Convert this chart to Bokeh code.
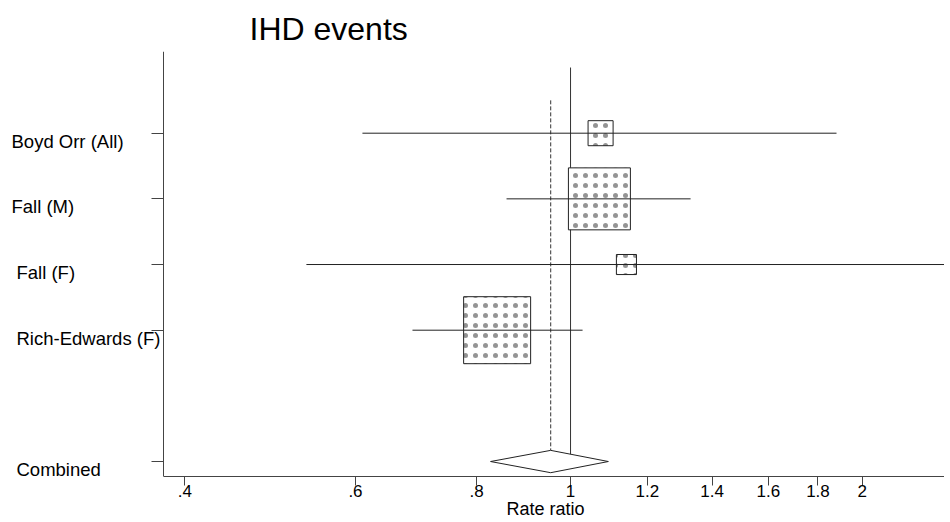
from bokeh.plotting import figure
from bokeh.models import Range1d, FixedTicker, Label, ColumnDataSource, Title
from bokeh.embed import file_html
from bokeh.resources import INLINE
import numpy as np

# ---- data ----
studies = ["Boyd Orr (All)", "Fall (M)", "Fall (F)", "Rich-Edwards (F)"]
rate_ratio = [1.074, 1.071, 1.142, 0.840]
ci_low = [0.610, 0.859, 0.534, 0.687]
ci_high = [1.881, 1.330, 2.600, 1.029]
weights = [6.7, 41.1, 4.3, 48.0]
combined_label = "Combined"
combined_rr = 0.954
combined_low = 0.827
combined_high = 1.094
tick_values = [0.4, 0.6, 0.8, 1.0, 1.2, 1.4, 1.6, 1.8, 2.0]
tick_labels = [".4", ".6", ".8", "1", "1.2", "1.4", "1.6", "1.8", "2"]
x_axis_title = "Rate ratio"

# ---- layout ----
rows = [1, 2, 3, 4]
combined_row = 6
FONT = "Liberation Sans"
AX_LO, AX_HI = 0.3803, 2.431          # extent of the drawn x axis
VIEW_LO = 0.2582                      # frame extends left to hold the row labels

p = figure(frame_width=944, frame_height=425, x_axis_type="log",
           x_range=Range1d(VIEW_LO, AX_HI), y_range=Range1d(6.228, -0.244),
           output_backend="svg", toolbar_location=None,
           min_border_left=0, min_border_right=0, min_border_top=51, min_border_bottom=46,
           title="IHD events")
p.title.text_font = FONT
p.title.text_font_size = "32px"
p.title.text_font_style = "normal"
p.title.text_color = "black"
p.title.align = "left"
p.title.offset = 249
p.title.standoff = 10
p.outline_line_color = None
p.grid.visible = False
p.background_fill_color = "white"

ax = p.xaxis[0]
ax.ticker = FixedTicker(ticks=tick_values)
ax.major_label_overrides = {v: t for v, t in zip(tick_values, tick_labels)}
ax.bounds = (AX_LO, AX_HI)
ax.major_label_text_font = FONT
ax.major_label_text_font_size = "17px"
ax.major_label_text_color = "black"
ax.major_label_standoff = -1
ax.major_tick_in = 0
ax.major_tick_out = 9
ax.minor_tick_line_color = None
ax.axis_line_color = "#444444"
ax.major_tick_line_color = "#444444"

ay = p.yaxis[0]
ay.fixed_location = AX_LO
ay.ticker = FixedTicker(ticks=rows + [combined_row])
ay.major_label_overrides = {r: " " for r in rows + [combined_row]}
ay.major_label_standoff = 0
ay.major_tick_in = 0
ay.major_tick_out = 12
ay.minor_tick_line_color = None
ay.axis_line_color = "#444444"
ay.major_tick_line_color = "#444444"

p.add_layout(Title(text=x_axis_title, align="left", offset=506, standoff=-6,
                   text_font=FONT, text_font_size="18px", text_font_style="normal",
                   text_color="black"), "below")

# null line at 1 and dashed combined estimate
p.segment(x0=[1.0], y0=[0], x1=[1.0], y1=[combined_row], line_color="#333333", line_width=1)
dh = 0.17
p.segment(x0=[combined_rr], y0=[0.5], x1=[combined_rr], y1=[combined_row - dh],
          line_color="#333333", line_width=1, line_dash="4 2")

# weighted squares
side = [9.67 * np.sqrt(w) for w in weights]
src = ColumnDataSource(dict(x=rate_ratio, y=rows, s=side, lo=ci_low, hi=ci_high))
p.rect(x="x", y="y", width="s", height="s", width_units="screen", height_units="screen",
       source=src, fill_color="white", line_color="#222222", line_width=1,
       hatch_pattern="dot", hatch_scale=10, hatch_color="#666666", hatch_weight=0.1,
       hatch_alpha=0.7)
# CIs
p.segment(x0="lo", y0="y", x1="hi", y1="y", source=src, line_color="#222222", line_width=1)

# combined diamond
p.patch(x=[combined_low, combined_rr, combined_high, combined_rr],
        y=[combined_row, combined_row - dh, combined_row, combined_row + dh],
        fill_color="white", line_color="#222222", line_width=1)

# row labels
label_x = [11, 11, 16, 16]
for name, r, lx in zip(studies, rows, label_x):
    p.add_layout(Label(x=lx, y=r, x_units="screen", y_units="data", text=name,
                       y_offset=-8, text_font=FONT, text_font_size="18.5px", text_color="black",
                       text_baseline="middle", text_align="left"))
p.add_layout(Label(x=16, y=combined_row, x_units="screen", y_units="data", text=combined_label,
                   y_offset=-8, text_font=FONT, text_font_size="18.5px", text_color="black",
                   text_baseline="middle", text_align="left"))

open("out.html", "w").write(file_html(p, INLINE))
